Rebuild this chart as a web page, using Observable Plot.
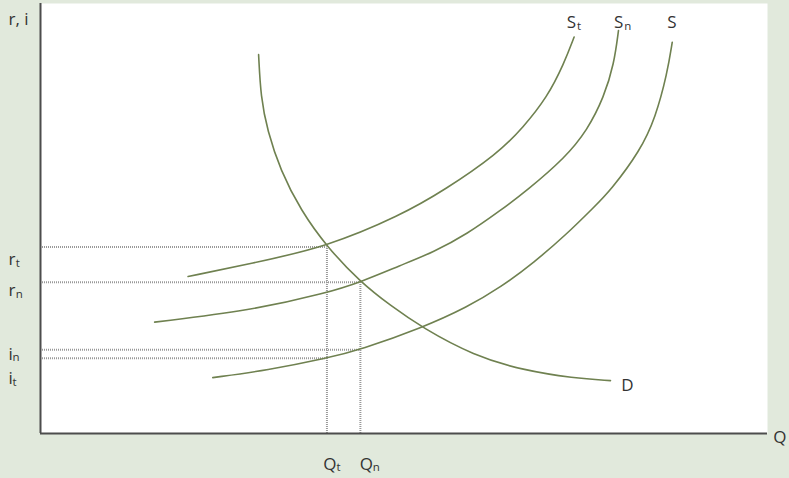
<!DOCTYPE html>
<html>
<head>
<meta charset="utf-8">
<script src="https://cdn.jsdelivr.net/npm/d3@7"></script>
<script src="https://cdn.jsdelivr.net/npm/@observablehq/plot@0.6"></script>
<style>
  html, body { margin: 0; padding: 0; background: #e1e9dc; }
  #chart svg { display: block; }
</style>
</head>
<body>
<div id="chart"></div>
<script>
// Quantity (Q) and rate (r, i) values, arbitrary units 0–100
const Qt = 39.4, Qn = 44.0;
const rt = 43.4, rn = 35.2, iN = 19.5, iT = 17.5;

const demandD = [
  [30.0, 88.1], [30.3, 78.2], [31.2, 70.5], [33.0, 61.2], [35.8, 51.9],
  [39.4, 43.4], [44.0, 35.2], [48.1, 29.8], [52.5, 24.6], [59.6, 18.1],
  [66.4, 14.7], [73.3, 12.9], [78.4, 12.3]
];
const supplySt = [
  [20.3, 36.5], [28.9, 39.5], [39.4, 43.4], [49.5, 50.7], [55.5, 56.5],
  [62.9, 65.1], [66.4, 71.2], [69.7, 78.2], [72.0, 86.0], [73.4, 92.2]
];
const supplySn = [
  [15.7, 25.9], [28.9, 28.6], [39.4, 32.7], [44.0, 35.2], [49.5, 39.1],
  [54.1, 42.2], [58.7, 46.4], [63.3, 51.9], [66.9, 56.5], [72.2, 64.2],
  [75.2, 70.5], [77.5, 78.2], [78.9, 86.0], [79.5, 93.7]
];
const supplyS = [
  [23.7, 13.0], [31.2, 14.7], [39.4, 17.5], [44.0, 19.5], [52.5, 24.6],
  [58.7, 29.4], [63.3, 34.0], [67.9, 39.8], [72.4, 46.4], [76.1, 52.6],
  [78.4, 56.5], [82.5, 65.8], [84.6, 73.5], [86.2, 83.7], [86.9, 91.0]
];

// dotted guide lines
const hGuides = [
  {y: rt, x2: Qt}, {y: rn, x2: Qn}, {y: iN, x2: Qn}, {y: iT, x2: Qt}
];
const vGuides = [
  {x: Qt, y2: rt}, {x: Qn, y2: rn}
];

// labels: main letter and subscript (annotation anchors in data units)
const mainLabels = [
  {t: "r, i", x: -4.4, y: 94.9},
  {t: "r", x: -4.4, y: 39.1},
  {t: "r", x: -4.4, y: 31.9},
  {t: "i", x: -4.4, y: 17.2},
  {t: "i", x: -4.4, y: 11.4},
  {t: "Q", x: 38.9, y: -8.6},
  {t: "Q", x: 43.9, y: -8.6},
  {t: "Q", x: 100.8, y: -2.2},
  {t: "S", x: 72.4, y: 94.2},
  {t: "S", x: 78.9, y: 94.2},
  {t: "S", x: 86.2, y: 94.2},
  {t: "D", x: 79.9, y: 10.0}
];
const subLabels = [
  {t: "t", x: -3.4, y: 38.7},
  {t: "n", x: -3.4, y: 31.4},
  {t: "n", x: -3.85, y: 16.8},
  {t: "t", x: -3.85, y: 11.0},
  {t: "t", x: 40.7, y: -8.8},
  {t: "n", x: 45.7, y: -8.8},
  {t: "t", x: 73.8, y: 93.8},
  {t: "n", x: 80.3, y: 93.8}
];

const curveColor = "#6f8150";
const curveStyle = {x: d => d[0], y: d => d[1], stroke: curveColor, strokeWidth: 1.6, curve: "basis"};
const guideStyle = {stroke: "#999", strokeWidth: 2, strokeDasharray: "1,1"};
const font = "'Open Sans', 'Noto Sans', sans-serif";

const chart = Plot.plot({
  width: 789,
  height: 478,
  marginLeft: 40,
  marginTop: 3,
  marginRight: 22,
  marginBottom: 45,
  x: {domain: [0, 100], axis: null},
  y: {domain: [0, 100], axis: null},
  style: {background: "#e1e9dc", fontFamily: font},
  marks: [
    Plot.frame({fill: "white", stroke: null}),
    Plot.ruleY(hGuides, {y: "y", x1: 0, x2: "x2", ...guideStyle}),
    Plot.ruleX(vGuides, {x: "x", y1: 0, y2: "y2", ...guideStyle}),
    Plot.line(demandD, curveStyle),
    Plot.line(supplySt, curveStyle),
    Plot.line(supplySn, curveStyle),
    Plot.line(supplyS, curveStyle),
    Plot.ruleX([0], {y1: 0, y2: 100, stroke: "#4d4d4d", strokeWidth: 2}),
    Plot.ruleY([0], {x1: 0, x2: 100, stroke: "#4d4d4d", strokeWidth: 2}),
    Plot.text(mainLabels, {x: "x", y: "y", text: "t", textAnchor: "start", lineAnchor: "bottom", fontSize: 17, fill: "#333"}),
    Plot.text(subLabels, {x: "x", y: "y", text: "t", textAnchor: "start", lineAnchor: "bottom", fontSize: 11.5, fill: "#333"})
  ]
});
document.getElementById("chart").appendChild(chart);
</script>
</body>
</html>
